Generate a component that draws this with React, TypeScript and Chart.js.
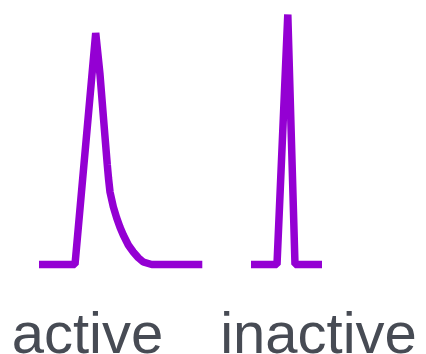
import React, { useEffect, useRef } from "react";
import { Chart, registerables } from "chart.js";

Chart.register(...registerables);

// time axis (arbitrary units) and normalized amplitude
const activeTime = [39, 75, 95.7, 100, 104, 107.3, 108.5, 110, 113.3, 116.7, 120, 123.3, 128.3, 133.3, 138.3, 143.3, 151.7, 202.3];
const activeAmp = [0, 0, 0.926, 0.76, 0.56, 0.398, 0.345, 0.29, 0.231, 0.186, 0.149, 0.118, 0.078, 0.05, 0.027, 0.01, 0, 0];

const inactiveTime = [251, 277, 287.8, 295, 322];
const inactiveAmp = [0, 0, 1.0, 0, 0];

const labels = ["active", "inactive"];
const labelTime = [87.5, 318.5];

const LINE_COLOR = "#9400D3";
const TEXT_COLOR = "#474b54";

const labelPlugin = {
  id: "waveLabels",
  afterDraw(chart: any) {
    const { ctx, scales } = chart;
    ctx.save();
    ctx.fillStyle = TEXT_COLOR;
    ctx.font = '58px "Liberation Sans", Arial, sans-serif';
    ctx.textAlign = "center";
    ctx.textBaseline = "alphabetic";
    labels.forEach((t, i) => {
      ctx.fillText(t, scales.x.getPixelForValue(labelTime[i]), scales.y.getPixelForValue(-0.354));
    });
    ctx.restore();
  },
};

export default function App() {
  const ref = useRef<HTMLCanvasElement>(null);
  useEffect(() => {
    if (!ref.current) return;
    const toPts = (xs: number[], ys: number[]) => xs.map((x, i) => ({ x, y: ys[i] }));
    const common = {
      showLine: true,
      borderColor: LINE_COLOR,
      backgroundColor: LINE_COLOR,
      borderWidth: 7.5,
      pointRadius: 0,
      tension: 0,
      borderJoinStyle: "bevel" as const,
      borderCapStyle: "butt" as const,
      clip: false as any,
      fill: false,
    };
    const chart = new Chart(ref.current, {
      type: "scatter",
      data: {
        datasets: [
          { label: "active", data: toPts(activeTime, activeAmp), ...common },
          { label: "inactive", data: toPts(inactiveTime, inactiveAmp), ...common },
        ],
      },
      options: {
        animation: false,
        responsive: false,
        maintainAspectRatio: false,
        layout: { padding: 0 },
        plugins: { legend: { display: false }, tooltip: { enabled: false } },
        scales: {
          x: { type: "linear", min: 0, max: 426, display: false },
          y: { type: "linear", min: -0.358, max: 1.058, display: false },
        },
      },
      plugins: [labelPlugin],
    });
    return () => chart.destroy();
  }, []);
  return (
    <div style={{ position: "fixed", left: 0, top: 0, width: 426, height: 354, background: "#fff" }}>
      <canvas ref={ref} width={426} height={354} style={{ display: "block" }} />
    </div>
  );
}
